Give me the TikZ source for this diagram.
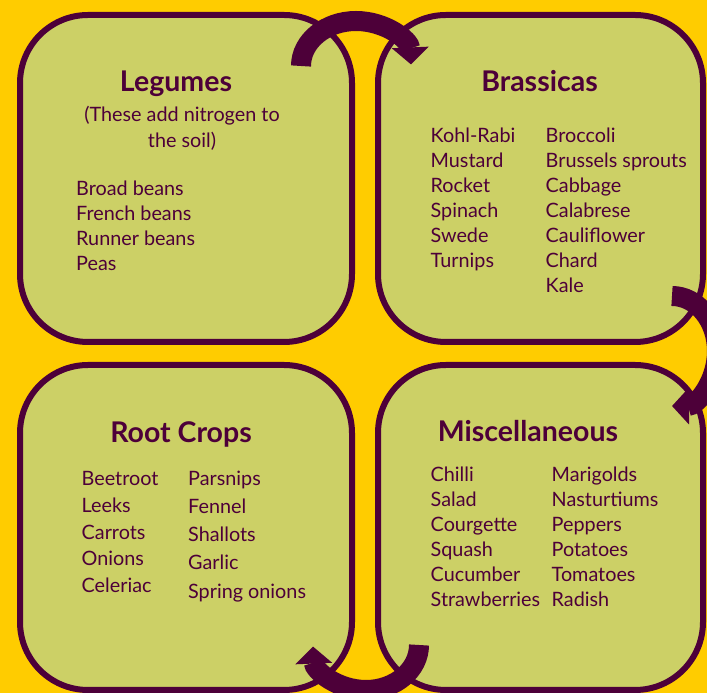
\documentclass[tikz,border=0pt]{standalone}
\usepackage{fontspec}
\setmainfont{Lato}
\usepackage{xcolor}
\usepackage{tikz}
\usetikzlibrary{positioning,arrows.meta}
\definecolor{plum}{RGB}{77,0,57}
\definecolor{leaf}{RGB}{204,208,102}
\definecolor{sun}{RGB}{255,204,0}

\begin{document}
\begin{tikzpicture}[x=1pt, y=1pt,
  bed/.style={draw=plum, fill=leaf, line width=6pt, rounded corners=68pt, inner sep=0pt},
  title/.style={font=\fontsize{28.5}{32}\selectfont\bfseries, text=plum, anchor=base, inner sep=0pt},
  crops/.style={font=\fontsize{19.8}{#1}\selectfont, text=plum, align=left, anchor=base west, inner sep=0pt},
  crops/.default=25,
  turn/.style={draw=plum, line width=20pt, -{Triangle[width=36pt, length=17pt]}}]
\useasboundingbox (0,0) rectangle (707,693);
\clip (0,0) rectangle (707,693);
\fill[sun] (0,0) rectangle (707,693);
% the four beds
\node[bed, minimum width=332pt, minimum height=327pt] (legumes) at (186,514.5) {};
\node[bed, minimum width=325pt, minimum height=327pt] (brassicas) at (540.5,514.5) {};
\node[bed, minimum width=332pt, minimum height=325pt] (roots) at (186,165.5) {};
\node[bed, minimum width=325pt, minimum height=325pt] (misc) at (540.5,165.5) {};
% legumes (list anchors sit on the last baseline)
\node[title] (legumestitle) at (176,601) {Legumes};
\node[crops, align=center, anchor=base, font=\fontsize{19.8}{26}\selectfont] (legumesnote) at (182,545)
  {(These add nitrogen to\\the soil)};
\node[crops] (legumeslist) at (76,422) {Broad beans\\French beans\\Runner beans\\Peas};
% brassicas
\node[title] (brassicastitle) at (539.5,601) {Brassicas};
\node[crops] (brassicasleft) at (430.5,425) {Kohl-Rabi\\Mustard\\Rocket\\Spinach\\Swede\\Turnips};
\node[crops] (brassicasright) at (545.5,400) {Broccoli\\Brussels sprouts\\Cabbage\\Calabrese\\Cauliflower\\Chard\\Kale};
% root crops
\node[title] (rootstitle) at (181,250) {Root Crops};
\node[crops=26.7] (rootsleft) at (81.5,100.3) {Beetroot\\Leeks\\Carrots\\Onions\\Celeriac};
\node[crops=28.3] (rootsright) at (188,94.7) {Parsnips\\Fennel\\Shallots\\Garlic\\Spring onions};
% miscellaneous
\node[title] (misctitle) at (528,251) {Miscellaneous};
\node[crops] (miscleft) at (430.5,86) {Chilli\\Salad\\Courgette\\Squash\\Cucumber\\Strawberries};
\node[crops] (miscright) at (551.5,86) {Marigolds\\Nasturtiums\\Peppers\\Potatoes\\Tomatoes\\Radish};
% rotation arrows
\coordinate (topturn) at (301,627);
\coordinate (sideturn) at (672,397);
\coordinate (lowturn) at (419,48);
\draw[turn] (topturn) arc[start angle=180, end angle=2, x radius=55pt, y radius=45pt];
\draw[turn] (sideturn) arc[start angle=90, end angle=-90, x radius=45pt, y radius=55pt];
\draw[turn] (lowturn) arc[start angle=0, end angle=-178, x radius=53pt, y radius=45pt];
\end{tikzpicture}
\end{document}
